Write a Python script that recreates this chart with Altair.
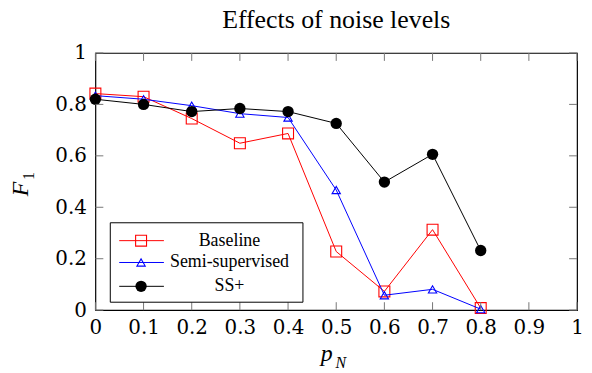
import altair as alt
import pandas as pd

# ---- data ----
p_n = [0.0, 0.1, 0.2, 0.3, 0.4, 0.5, 0.6, 0.7, 0.8]
baseline = [0.842, 0.830, 0.745, 0.649, 0.687, 0.228, 0.073, 0.313, 0.008]
semi = [0.834, 0.820, 0.795, 0.764, 0.749, 0.467, 0.058, 0.081, 0.004]
ssplus = [0.820, 0.800, 0.772, 0.784, 0.772, 0.726, 0.498, 0.606, 0.232]

series_names = ["Baseline", "Semi-supervised", "SS+"]
x_ticks = [0.0, 0.1, 0.2, 0.3, 0.4, 0.5, 0.6, 0.7, 0.8, 0.9, 1.0]
y_ticks = [0.0, 0.2, 0.4, 0.6, 0.8, 1.0]

W, H = 485, 259
SERIF = "Liberation Serif"
TICKFONT = "DejaVu Serif"

df_b = pd.DataFrame({"x": p_n, "y": baseline})
df_s = pd.DataFrame({"x": p_n, "y": semi})
df_p = pd.DataFrame({"x": p_n, "y": ssplus})
df_xt = pd.DataFrame({"x": x_ticks})
df_yt = pd.DataFrame({"y": y_ticks})

xscale = alt.Scale(domain=[0, 1], nice=False, zero=False)
yscale = alt.Scale(domain=[0, 1], nice=False, zero=False)

xaxis = alt.Axis(values=x_ticks, format="~g", ticks=False, domain=False, grid=False,
                 labelFont=TICKFONT, labelFontSize=20, labelColor="black",
                 labelPadding=7, title=None, labelFlush=False)
yaxis = alt.Axis(values=y_ticks, format="~g", ticks=False, domain=False, grid=False,
                 labelFont=TICKFONT, labelFontSize=20, labelColor="black",
                 labelPadding=9, title=None, labelFlush=False)

X = alt.X("x:Q", scale=xscale, axis=xaxis)
Y = alt.Y("y:Q", scale=yscale, axis=yaxis)


def series(df, color, shape, filled, size):
    line = alt.Chart(df).mark_line(color=color, strokeWidth=1).encode(x=X, y=Y)
    pts = alt.Chart(df).mark_point(shape=shape, filled=filled, color=color,
                                   size=size, strokeWidth=1.1, opacity=1).encode(x=X, y=Y)
    return line + pts


tick_color = "#777777"
xt_bottom = alt.Chart(df_xt).mark_rule(color=tick_color, strokeWidth=1).encode(
    x=X, y=alt.value(H), y2=alt.value(H - 8))
xt_top = alt.Chart(df_xt).mark_rule(color=tick_color, strokeWidth=1).encode(
    x=X, y=alt.value(0), y2=alt.value(8))
yt_left = alt.Chart(df_yt).mark_rule(color=tick_color, strokeWidth=1).encode(
    y=Y, x=alt.value(0), x2=alt.value(8))
yt_right = alt.Chart(df_yt).mark_rule(color=tick_color, strokeWidth=1).encode(
    y=Y, x=alt.value(W), x2=alt.value(W - 8))

# axis titles (math-style with subscripts)
ttl_df = pd.DataFrame({"d": [0]})
f_lab = alt.Chart(ttl_df).mark_text(text="F", font=SERIF, fontStyle="italic", fontSize=24,
                                    angle=270, align="center", baseline="alphabetic").encode(
    x=alt.value(-68), y=alt.value(137))
f_sub = alt.Chart(ttl_df).mark_text(text="1", font=SERIF, fontSize=16,
                                    angle=270, align="center", baseline="alphabetic").encode(
    x=alt.value(-62), y=alt.value(124))
p_lab = alt.Chart(ttl_df).mark_text(text="p", font=SERIF, fontStyle="italic", fontSize=24,
                                    align="center", baseline="alphabetic").encode(
    x=alt.value(233), y=alt.value(310))
n_sub = alt.Chart(ttl_df).mark_text(text="N", font=SERIF, fontStyle="italic", fontSize=16,
                                    align="center", baseline="alphabetic").encode(
    x=alt.value(247), y=alt.value(317))
title_txt = alt.Chart(ttl_df).mark_text(text="Effects of noise levels", font=SERIF, fontSize=26,
                                        align="center", baseline="alphabetic", color="black").encode(
    x=alt.value(W / 2), y=alt.value(-25))

# legend
leg_df = pd.DataFrame({"d": [0]})
LX0, LX1, LY0, LY1 = 15, 209, 171, 251
leg_box = alt.Chart(leg_df).mark_rect(fill="white", stroke="black", strokeWidth=1).encode(
    x=alt.value(LX0), x2=alt.value(LX1), y=alt.value(LY0), y2=alt.value(LY1))
leg_layers = [leg_box]
leg_specs = [
    (series_names[0], "red", "square", False, 121, 189),
    (series_names[1], "blue", "triangle-up", False, 70, 211),
    (series_names[2], "black", "circle", True, 130, 235),
]
for name, color, shape, filled, size, yy in leg_specs:
    leg_layers.append(alt.Chart(leg_df).mark_rule(color=color, strokeWidth=1).encode(
        x=alt.value(24), x2=alt.value(69), y=alt.value(yy)))
    leg_layers.append(alt.Chart(leg_df).mark_point(shape=shape, filled=filled, color=color,
                                                   size=size, strokeWidth=1.1, opacity=1).encode(
        x=alt.value(46), y=alt.value(yy)))
    leg_layers.append(alt.Chart(leg_df).mark_text(text=name, font=SERIF, fontSize=18,
                                                  align="center", baseline="middle").encode(
        x=alt.value(135), y=alt.value(yy)))

chart = alt.layer(
    series(df_b, "#ff0000", "square", False, 121),
    series(df_s, "#0000ff", "triangle-up", False, 70),
    series(df_p, "black", "circle", True, 130),
    xt_bottom, xt_top, yt_left, yt_right,
    f_lab, f_sub, p_lab, n_sub, title_txt,
    *leg_layers,
).properties(
    width=W, height=H,
    autosize=alt.AutoSizeParams(type="none"),
    padding={"left": 88, "top": 44, "right": 7, "bottom": 60},
).configure_view(stroke="black", strokeWidth=1.2)

chart.save("out.html", embed_options={"renderer": "svg", "actions": False})
